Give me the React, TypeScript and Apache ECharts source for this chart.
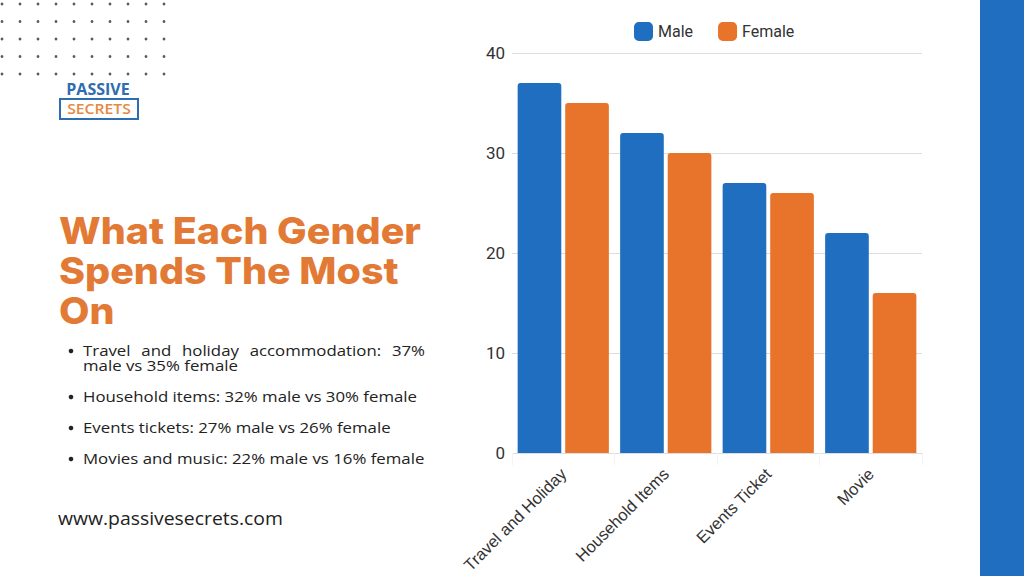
import React, { useEffect, useRef } from "react";
import * as echarts from "echarts";

const categories = ["Travel and Holiday", "Household Items", "Events Ticket", "Movie"];
const maleValues = [37, 32, 27, 22];
const femaleValues = [35, 30, 26, 16];
const yTicks = { min: 0, max: 40, interval: 10 };

const titleLines = ["What Each Gender", "Spends The Most", "On"];
const bulletLines = [
  ["Travel and holiday accommodation: 37%", "male vs 35% female"],
  ["Household items: 32% male vs 30% female"],
  ["Events tickets: 27% male vs 26% female"],
  ["Movies and music: 22% male vs 16% female"],
];
const siteUrl = "www.passivesecrets.com";

const BLUE = "#1F6EBF";
const ORANGE = "#E8732A";
const TITLE_ORANGE = "#E27A36";
const BODY_FONT = "14px 'Open Sans'";
const TITLE_FONT = "800 37px Inter";
const URL_FONT = "18px 'Open Sans'";

function measure(text: string, font: string): number {
  const c = document.createElement("canvas");
  const ctx = c.getContext("2d")!;
  ctx.font = font;
  return ctx.measureText(text).width;
}

function txt(text: string, x: number, y: number, font: string, fill: string, scaleX = 1, align = "left") {
  return {
    type: "text",
    x,
    y,
    scaleX,
    style: {
      text,
      x: 0,
      y: 0,
      font,
      fill,
      textAlign: align,
      textVerticalAlign: "middle",
      align,
      verticalAlign: "middle",
    },
  };
}

export default function App() {
  const ref = useRef<HTMLDivElement>(null);
  useEffect(() => {
    if (!ref.current) return;
    const chart = echarts.init(ref.current, undefined, { renderer: "svg" });
    const graphics: any[] = [];

    // dotted pattern
    for (let r = 0; r < 5; r++) {
      for (let c = 0; c < 10; c++) {
        graphics.push({
          type: "circle",
          shape: { cx: 2 + c * 18, cy: 4 + r * 17.5, r: 1.4 },
          style: { fill: "#4E5D6B" },
          silent: true,
        });
      }
    }
    // logo
    graphics.push(txt("PASSIVE", 98, 89, "bold 16px 'Open Sans'", "#2E6DB0", 1.0, "center"));
    graphics.push({
      type: "rect",
      shape: { x: 60, y: 99, width: 78, height: 20 },
      style: { fill: "#fff", stroke: "#2E6DB0", lineWidth: 2 },
    });
    graphics.push(txt("SECRETS", 99, 109, "600 15px 'Open Sans'", "#E8893F", 1.05, "center"));

    // title
    const titleScale = 362 / measure(titleLines[0], TITLE_FONT);
    titleLines.forEach((t, i) => {
      graphics.push(txt(t, 59, 230 + i * 40, TITLE_FONT, TITLE_ORANGE, titleScale));
    });

    // bullets
    const bodyScale = 334 / measure(bulletLines[1][0], BODY_FONT);
    const bulletY = [351, 397, 428, 459];
    bulletLines.forEach((lines, i) => {
      graphics.push({
        type: "circle",
        shape: { cx: 71, cy: bulletY[i], r: 2.3 },
        style: { fill: "#222" },
      });
      lines.forEach((line, j) => {
        const y = bulletY[i] + j * 15;
        if (i === 0 && j === 0) {
          const words = line.split(" ");
          const widths = words.map((w) => measure(w, BODY_FONT) * bodyScale);
          const total = widths.reduce((a, b) => a + b, 0);
          const gap = (425 - 83 - total) / (words.length - 1);
          let x = 83;
          words.forEach((w, k) => {
            graphics.push(txt(w, x, y, BODY_FONT, "#222", bodyScale));
            x += widths[k] + gap;
          });
        } else {
          graphics.push(txt(line, 83, y, BODY_FONT, "#222", bodyScale));
        }
      });
    });
    const urlScale = 225 / measure(siteUrl, URL_FONT);
    graphics.push(txt(siteUrl, 58, 518, URL_FONT, "#222", urlScale));

    // right strip
    graphics.push({
      type: "rect",
      shape: { x: 980, y: 0, width: 44, height: 576 },
      style: { fill: BLUE },
    });

    chart.setOption({
      animation: false,
      backgroundColor: "#fff",
      color: [BLUE, ORANGE],
      legend: {
        top: 17,
        left: 629,
        itemWidth: 19,
        itemHeight: 19,
        itemGap: 25,
        icon: "roundRect",
        textStyle: { fontSize: 16, color: "#333", fontFamily: "Roboto" },
        data: ["Male", "Female"],
      },
      grid: { left: 512, right: 102, top: 53, bottom: 123 },
      xAxis: {
        type: "category",
        data: categories,
        axisLine: { show: false },
        axisTick: { show: true, length: 12, lineStyle: { color: "#f3f3f3" } },
        axisLabel: { rotate: 45, fontSize: 16.5, color: "#333", fontFamily: "'Liberation Sans'", margin: 18, interval: 0 },
      },
      yAxis: {
        type: "value",
        min: yTicks.min,
        max: yTicks.max,
        interval: yTicks.interval,
        axisLine: { show: false },
        axisTick: { show: false },
        axisLabel: { fontSize: 17, color: "#333", fontFamily: "Roboto", margin: 7 },
        splitLine: { lineStyle: { color: "#dddddd" } },
      },
      series: [
        {
          name: "Male",
          type: "bar",
          data: maleValues,
          barGap: "9%",
          barCategoryGap: "11%",
          itemStyle: { color: BLUE, borderRadius: [3, 3, 0, 0] },
        },
        {
          name: "Female",
          type: "bar",
          data: femaleValues,
          barGap: "9%",
          barCategoryGap: "11%",
          itemStyle: { color: ORANGE, borderRadius: [3, 3, 0, 0] },
        },
      ],
      graphic: graphics,
    });
    return () => chart.dispose();
  }, []);
  return (
    <div
      ref={ref}
      style={{ position: "fixed", left: 0, top: 0, width: 1024, height: 576 }}
    />
  );
}
